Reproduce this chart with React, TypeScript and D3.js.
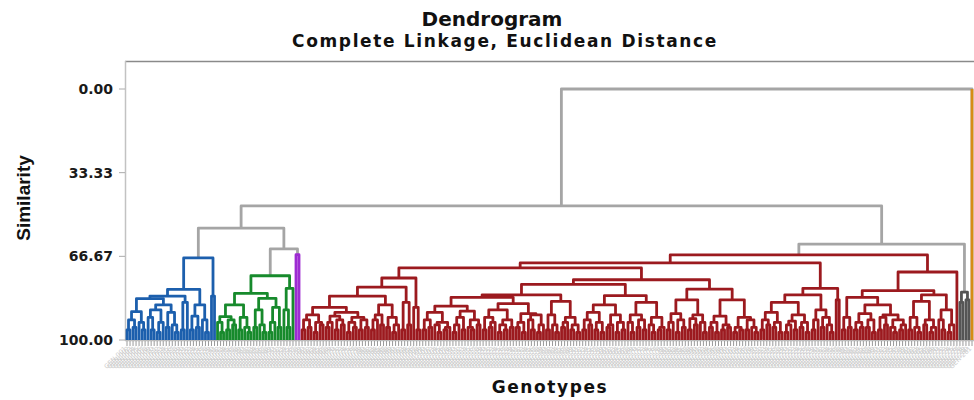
import React from "react";
import * as d3 from "d3";

const width = 974;
const height = 400;

const title = "Dendrogram";
const subtitle = "Complete Linkage, Euclidean Distance";
const yTitle = "Similarity";
const xTitle = "Genotypes";
const yTicks = [0, 33.33, 66.67, 100];

// merge trees: "." is a genotype, "(ab)h" joins a and b at similarity h
const blueTree =
  "(((((((..)96(..)95)92(.(..)96)93)88.7(((.(..)96)91((..)97.)93)88((..)95(.(..)97)94)89)86)83.5" +
  "((..)96.)85)82.5(((..)96(..)95)90.5(.(..)97)92)86)79.8(..)82.5)67.3";

const greenTree =
  "(((((.(..)97)93((..)96(..)94)92)90.7((..)96(.(..)97)95)91)86" +
  "(((..)95(.(..)97)94)88(((..)97.)93(..)95)87)83.4)81.4((.(..)95)88.)79.4)74.4";

const purpleTree = "(..)66";

const redLeftA = "((((..)96(..)95)92((..)97(..)94)93)90((((..)95.)93((..)96(..)94)92)90.5(((..)97(..)95)93((..)96(..)95)92)91)89)87";
const redLeftB = "((((..)96.)92(..)94)90((..)95((..)97.)94)91)86";
const redLeftC = "((..)96(..)94)85";
const redLeftD = "(.(..)96)87";
const redMidA = "((((..)96(..)95)92((.(..)97)94((..)96.)95)93)89((((..)97.)94(..)96)91((.(..)96)95(..)94)92)88.5)86.5";
const redMidB = "((((..)96((..)95.)93)91(((..)97(..)96)94(..)95)92)88(((..)95(..)97)93((.(..)96)92((..)97.)94)90)89.5)85.5";
const redMidC = "(((..)96(.(..)97)94)90(((..)95.)93((..)96(..)97)94)91)84.6";
const redMidD = "((((..)96(..)94)92((..)96(..)97)93)89(((..)95.)94((..)97(..)96)93)90)86";
const redMidE = "(((.(..)97)93((..)95(..)96)92)90((.(..)97)94((..)96.)95)91)85";
const redMidF = "((((..)96.)93((..)97(..)95)92)89.5(((..)96(..)94)91.5(.(..)97)93)90)84";
const redMidG = "((((..)95(..)97)93((..)96(..)95)94)90.5(((..)97(..)96)95((..)96(.(..)97)95)92)91)84";
const redRightA = "((((..)96(..)94)92((..)95(..)97)93)89((((..)97.)94(..)96)92.5((..)95(..)97)93)90)85";
const redRightB = "(((..)96.)92((..)95(.(..)97)94)91)88";
const redRightC = "(..)84";
const redFarA = "(((..)96(..)95)91((((..)96(..)95)93((..)95(..)97)92)89.5(((..)96(..)94)91((.(..)97)95((..)96.)94)92)90)86)83";
const redFarB = "((((..)96(.(..)97)95)91((..)94((..)97.)95)92)84.6((.(..)96)92((..)97.)94)88)82";

const redTree =
  "((((((" + redLeftA + redLeftB + ")82.5" + redLeftC + ")78.9" + redLeftD + ")75.3" +
  "((((" + redMidA + redMidB + ")83" + redMidC + ")82(" + redMidD + redMidE + ")82.3)77.8" +
  "(" + redMidF + redMidG + ")79.7)76)71.3" +
  "((" + redRightA + redRightB + ")82" + redRightC + ")79.4)69.3" +
  "((" + redFarA + redFarB + ")80.3.)72.9)66.1";

const darkTree = "((..)85(..)84)80.9";
const orangeTree = ".";

const clusterTrees = [blueTree, greenTree, purpleTree, redTree, darkTree, orangeTree];
const clusterColors = ["#1c5fad", "#178a2c", "#9d2bd2", "#9c1a1f", "#555555", "#d68c14"];
const linkGray = "#a5a5a5";
// clusters A..F joined above the cut
const topTree = "(((A(BC)63.7)55.4(DE)61.8)46.6F)0";

type TNode = { h: number; c: number; children?: TNode[] };

function parseTree(src: string, c: number, sub?: (k: number) => TNode): TNode {
  let i = 0;
  const read = (): TNode => {
    const ch = src[i];
    if (ch === "(") {
      i++;
      const children: TNode[] = [];
      while (i < src.length && src[i] !== ")") children.push(read());
      i++;
      const m = /^\d+(\.\d+)?/.exec(src.slice(i));
      const h = m ? +m[0] : 0;
      if (m) i += m[0].length;
      return { h, c, children };
    }
    i++;
    if (ch === "." || !sub) return { h: 100, c };
    return sub(ch.charCodeAt(0) - 65);
  };
  return read();
}

const treeData = parseTree(topTree, -1, (k) => parseTree(clusterTrees[k], k));

export default function App() {
  const root: any = d3.hierarchy(treeData);
  const leaves = root.leaves();
  const x = d3.scalePoint<number>().domain(leaves.map((_: any, i: number) => i)).range([127, 972]);
  leaves.forEach((l: any, i: number) => (l.x = x(i)));
  root.eachAfter((n: any) => {
    if (n.children) n.x = d3.mean(n.children, (k: any) => k.x);
  });
  const y = d3.scaleLinear().domain([0, 100]).range([89, 340]);

  const inner = root.descendants().filter((n: any) => n.children);
  const colorOf = (n: any) => (n.data.c < 0 ? linkGray : clusterColors[n.data.c]);

  const links = inner.map((n: any, i: number) => {
    const [a, b] = n.children;
    const d = `M${a.x},${y(a.data.h)}V${y(n.data.h)}H${b.x}V${y(b.data.h)}`;
    return <path key={"n" + i} d={d} stroke={colorOf(n)} />;
  });
  // a genotype standing alone as its own cluster keeps its colour
  const singles = leaves
    .filter((l: any) => l.data.c >= 0 && l.parent.data.c < 0)
    .map((l: any, i: number) => (
      <line key={"s" + i} x1={l.x} x2={l.x} y1={y(l.parent.data.h)} y2={y(100)} stroke={clusterColors[l.data.c]} />
    ));

  const font = "'DejaVu Sans', Verdana, sans-serif";

  return (
    <svg width={width} height={height} style={{ position: "absolute", left: 0, top: 0, background: "#fff" }}>
      <text x={492} y={26} textAnchor="middle" fontFamily={font} fontWeight="bold" fontSize={20} fill="#111">
        {title}
      </text>
      <text x={505} y={47} textAnchor="middle" fontFamily={font} fontWeight="bold" fontSize={17} letterSpacing={1.65} fill="#111">
        {subtitle}
      </text>

      <line x1={125} x2={974} y1={61.5} y2={61.5} stroke="#8a8a8a" strokeWidth={1.5} />
      <line x1={125.5} x2={125.5} y1={61} y2={341} stroke="#c2c2c2" strokeWidth={1.5} />
      <line x1={125} x2={974} y1={340.5} y2={340.5} stroke="#bcbcbc" strokeWidth={1.5} />

      {yTicks.map((t) => (
        <g key={t}>
          <line x1={119} x2={125} y1={y(t)} y2={y(t)} stroke="#aaa" />
          <text x={113} y={y(t)} dy="0.36em" textAnchor="end" fontFamily={font} fontWeight="bold" fontSize={14} fill="#1a1a1a">
            {d3.format(".2f")(t)}
          </text>
        </g>
      ))}

      <g fill="none" strokeWidth={2.8} strokeLinejoin="round">
        {links}
        {singles}
      </g>

      {leaves.map((l: any, i: number) => (
        <g key={"l" + i}>
          <line x1={l.x} x2={l.x} y1={341} y2={346} stroke="#9a9a9a" />
          <text
            transform={`translate(${l.x},349) rotate(-45)`}
            textAnchor="end"
            fontFamily={font}
            fontSize={6.5}
            fill="#cdcdcd"
          >
            {`GEN-${d3.format("03d")(i + 1)}`}
          </text>
        </g>
      ))}

      <text
        transform="translate(30,198) rotate(-90)"
        textAnchor="middle"
        fontFamily="'Liberation Sans Narrow', 'Liberation Sans', sans-serif"
        fontWeight="bold"
        fontSize={19}
        fill="#111"
      >
        {yTitle}
      </text>
      <text x={550} y={393} textAnchor="middle" fontFamily={font} fontWeight="bold" fontSize={17} letterSpacing={1.6} fill="#111">
        {xTitle}
      </text>
    </svg>
  );
}
